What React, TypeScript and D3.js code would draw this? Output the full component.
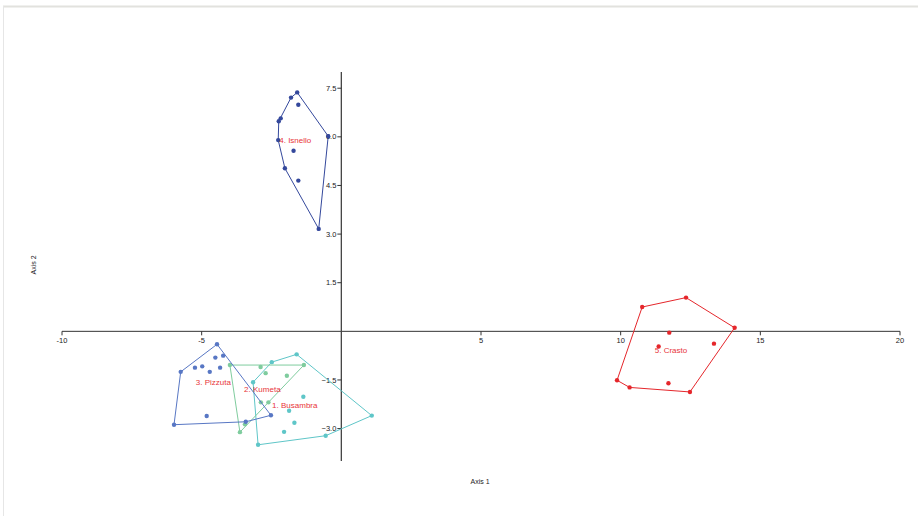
import * as d3 from "d3";

type Pt = [number, number];

const groupNames = ["1. Busambra", "2. Kumeta", "3. Pizzuta", "4. Isnello", "5. Crasto"];
const groupColors = ["#5fc6c8", "#7fcc9e", "#5877c4", "#34489c", "#e5262b"];

const busambra: Pt[] = [
    [-1.60, -0.71], [-2.49, -0.95], [-3.16, -1.57], [-1.36, -2.02], [-1.87, -2.45],
    [-1.68, -2.82], [-2.05, -3.10], [1.09, -2.60], [-0.56, -3.22], [-2.98, -3.50],
];
const kumeta: Pt[] = [
    [-3.99, -1.04], [-2.89, -1.10], [-2.71, -1.29], [-1.34, -1.04], [-1.95, -1.37],
    [-2.88, -2.19], [-2.61, -2.19], [-3.45, -2.87], [-3.63, -3.11],
];
const pizzuta: Pt[] = [
    [-4.45, -0.40], [-4.51, -0.81], [-4.23, -0.75], [-5.24, -1.12], [-4.98, -1.08], [-4.71, -1.25],
    [-4.34, -1.12], [-5.75, -1.25], [-4.82, -2.61], [-5.99, -2.88], [-3.42, -2.79], [-2.52, -2.59],
];
const isnello: Pt[] = [
    [-1.58, 7.37], [-1.80, 7.21], [-1.54, 6.99], [-2.17, 6.57], [-2.24, 6.48], [-2.26, 5.90],
    [-0.47, 6.02], [-1.71, 5.57], [-2.02, 5.03], [-1.54, 4.65], [-0.81, 3.16],
];
const crasto: Pt[] = [
    [10.77, 0.75], [12.34, 1.04], [14.08, 0.11], [11.74, -0.04], [13.34, -0.38],
    [11.36, -0.47], [9.87, -1.51], [10.32, -1.73], [11.71, -1.60], [12.48, -1.87],
];
const groups = [busambra, kumeta, pizzuta, isnello, crasto];

const xTicks = [-10, -5, 5, 10, 15, 20];
const yTicks = [7.5, 6.0, 4.5, 3.0, 1.5, -1.5, -3.0];

const W = 918, H = 516;

export default function App() {
    const x = d3.scaleLinear([-10, 20], [62, 900]);
    const y = d3.scaleLinear([-4, 8], [461, 72]);
    const x0 = x(0), y0 = y(0);
    const hullLine = d3.line<Pt>().x(d => x(d[0])).y(d => y(d[1])).curve(d3.curveLinearClosed);
    const font = "Liberation Sans, Arial, sans-serif";

    return <svg width={W} height={H} style={{position: "absolute", left: 0, top: 0}} fontFamily={font}>
        <rect x={0} y={0} width={W} height={H} fill="#fff"/>
        {/* page frame */}
        <line x1={3} x2={W} y1={6.5} y2={6.5} stroke="#e2e2de" strokeWidth={2}/>
        <line x1={3.5} x2={3.5} y1={6} y2={H} stroke="#e6e6e6" strokeWidth={1}/>

        {/* x axis */}
        <line x1={x(-10)} x2={x(20)} y1={y0} y2={y0} stroke="#333" strokeWidth={1}/>
        {xTicks.map(t => <g key={t} transform={`translate(${x(t)},${y0})`}>
            <line y2={4} stroke="#333"/>
            <text y={12} textAnchor="middle" fontSize={7.5} fill="#222">{t}</text>
        </g>)}
        {/* y axis */}
        <line x1={x0} x2={x0} y1={y(8)} y2={y(-4)} stroke="#444" strokeWidth={1.3}/>
        {yTicks.map(t => <g key={t} transform={`translate(${x0},${y(t)})`}>
            <line x2={-4} stroke="#333"/>
            <text x={-5} dy="0.35em" textAnchor="end" fontSize={7.5} fill="#222">{d3.format(".1f")(t)}</text>
        </g>)}
        <text x={480} y={484} textAnchor="middle" fontSize={7} fill="#222">Axis 1</text>
        <text transform={`translate(36,265) rotate(-90)`} textAnchor="middle" fontSize={7} fill="#222">Axis 2</text>

        {groups.map((pts, i) => {
            const hull = d3.polygonHull(pts) as Pt[];
            return <g key={i}>
                <path d={hullLine(hull) ?? ""} fill="none" stroke={groupColors[i]} strokeWidth={1}/>
                {pts.map((p, j) => <circle key={j} cx={x(p[0])} cy={y(p[1])} r={2.2} fill={groupColors[i]}/>)}
            </g>;
        })}
        {groups.map((pts, i) => <text key={i} x={x(d3.mean(pts, p => p[0])!)} y={y(d3.mean(pts, p => p[1])!)}
                                      dy="0.35em" textAnchor="middle" fontSize={8} fill="#e8353a">{groupNames[i]}</text>)}
    </svg>;
}
